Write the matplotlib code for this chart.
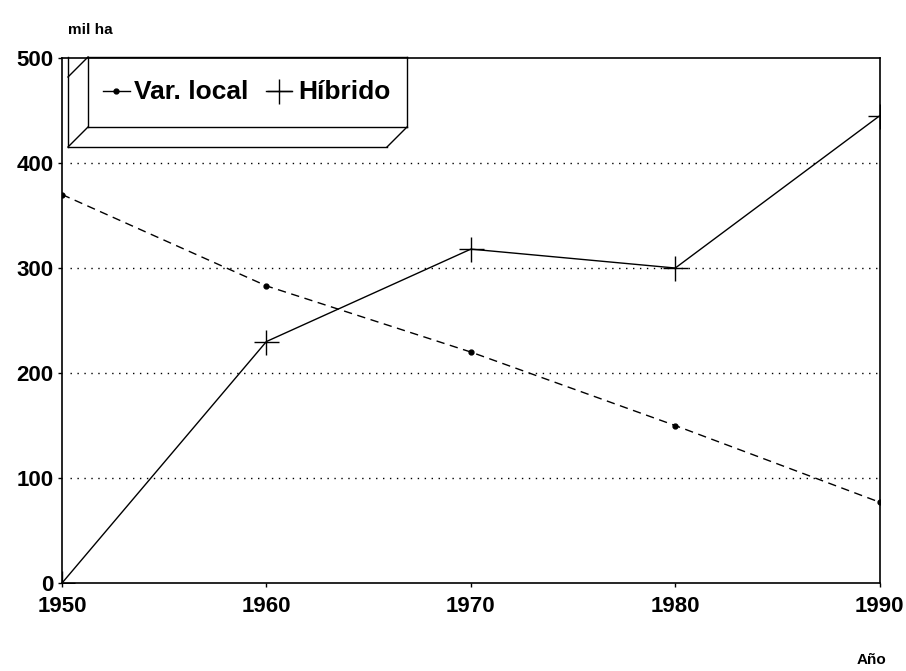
import matplotlib
matplotlib.use("Agg")
import matplotlib.pyplot as plt
from matplotlib.lines import Line2D

years = [1950, 1960, 1970, 1980, 1990]
var_local = [370, 283, 220, 150, 77]
hibrido = [0, 230, 318, 300, 445]
yticks = [0, 100, 200, 300, 400, 500]
grid_levels = [100, 200, 300, 400]

plt.rcParams['font.family'] = ['Liberation Sans', 'DejaVu Sans']

fig = plt.figure(figsize=(9.06, 6.71), dpi=100)
ax = fig.add_axes([0.0684, 0.131, 0.9026, 0.7826])

for g in grid_levels:
    ax.axhline(g, xmin=0.01, color='black', lw=1.0, ls=(0, (1, 4)), zorder=1)

ax.plot(years, var_local, color='black', lw=1.0, ls=(0, (6, 4)),
        marker='o', ms=3.5, zorder=3)
ax.plot(years, hibrido, color='black', lw=1.0, ls='-',
        marker='+', ms=18, mew=1.0, zorder=3)

ax.set_xlim(1950, 1990)
ax.set_ylim(0, 500)
ax.set_xticks(years)
ax.set_xticklabels([str(y) for y in years], fontsize=16, fontweight='bold')
ax.set_yticks(yticks)
ax.set_yticklabels([str(t) for t in yticks], fontsize=16, fontweight='bold')
ax.tick_params(direction='out', length=3, width=1, pad=2)
ax.tick_params(axis='x', pad=6)
ax.tick_params(axis='y', pad=3)
for s in ax.spines.values():
    s.set_linewidth(1.2)

fig.text(0.075, 0.955, 'mil ha', fontsize=11, fontweight='bold', ha='left', va='center')
fig.text(0.945, 0.016, 'Año', fontsize=11, fontweight='bold', ha='left', va='center')

# 3D legend box in figure pixel coords
W, H = 906, 671
def P(x, y):
    return (x / W, 1 - y / H)

segs = [
    ((88, 57), (407, 57)), ((407, 57), (407, 127)), ((407, 127), (88, 127)), ((88, 127), (88, 57)),
    ((88, 57), (68, 77)), ((88, 127), (68, 147)), ((407, 127), (387, 147)),
    ((68, 147), (387, 147)), ((68, 57), (68, 147)),
]
for a, b in segs:
    pa, pb = P(*a), P(*b)
    fig.add_artist(Line2D([pa[0], pb[0]], [pa[1], pb[1]], color='black', lw=1.0,
                          transform=fig.transFigure))

# legend entries
y0 = 91
fig.add_artist(Line2D([P(103, y0)[0], P(130, y0)[0]], [P(103, y0)[1]] * 2, color='black', lw=1.0,
                      transform=fig.transFigure))
fig.add_artist(Line2D([P(116, y0)[0]], [P(116, y0)[1]], color='black', marker='o', ms=3.5,
                      transform=fig.transFigure))
fig.text(*P(134, y0 + 1), 'Var. local', fontsize=19, fontweight='bold', ha='left', va='center')
fig.add_artist(Line2D([P(266, y0)[0], P(292, y0)[0]], [P(266, y0)[1]] * 2, color='black', lw=1.0,
                      transform=fig.transFigure))
fig.add_artist(Line2D([P(279, y0)[0]], [P(279, y0)[1]], color='black', marker='+', ms=18,
                      mew=1.0, transform=fig.transFigure))
fig.text(*P(298, y0 + 1), 'Híbrido', fontsize=19, fontweight='bold', ha='left', va='center')

fig.savefig('out.png', dpi=100)
